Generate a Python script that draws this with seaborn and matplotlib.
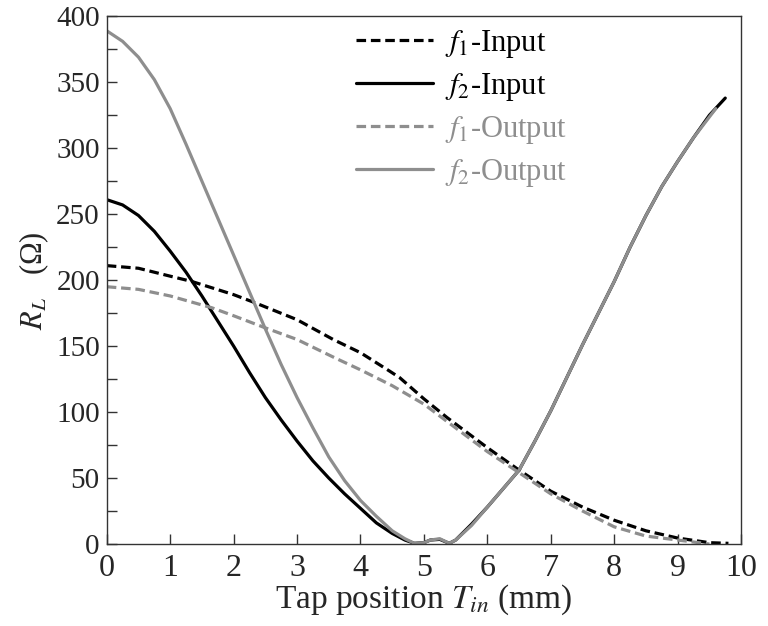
import numpy as np
import pandas as pd
import matplotlib
matplotlib.use("Agg")
import matplotlib.pyplot as plt
import seaborn as sns
from matplotlib.ticker import MultipleLocator

# --------------------------------
# DATA
# --------------------------------

# f1 - input (black dashed)
f1_in_x = [0, 0.5, 1.0, 1.34, 2.0, 2.33, 3.0, 3.57, 4.0, 4.46, 4.62, 5.0, 5.36,
           6.0, 6.47, 7.0, 7.5, 8.0, 8.5, 9.0, 9.5, 9.8]
f1_in_y = [211, 209, 203, 199, 189, 183, 170, 155, 145, 131, 126, 110, 96,
           73, 57, 40, 28, 18, 10, 4.5, 1, 0.5]

# f2 - input (black solid)
f2_in_x = [0, 0.25, 0.5, 0.75, 1.0, 1.25, 1.5, 1.75, 2.0, 2.25, 2.5, 2.75, 3.0,
           3.25, 3.5, 3.75, 4.0, 4.25, 4.5, 4.7, 4.85, 5.0, 5.1, 5.25, 5.4,
           5.5, 5.75, 6.0, 6.25, 6.5, 6.75, 7.0, 7.25, 7.5, 7.75, 8.0, 8.25,
           8.5, 8.75, 9.0, 9.25, 9.5, 9.75]
f2_in_y = [261, 257, 249, 237, 222, 206, 188, 169, 150, 130, 111, 94, 78,
           63, 50, 38, 27, 16, 8, 3, 0.5, 1, 3, 3.5, 0.5,
           3, 15, 28, 42, 56, 78, 101, 126, 151, 175, 199, 225,
           249, 271, 290, 308, 325, 338]

# f1 - output (gray dashed)
f1_out_x = [0, 0.5, 1.0, 1.66, 2.0, 2.49, 3.0, 3.6, 4.0, 4.5, 5.0, 5.36,
            6.0, 6.47, 7.0, 7.5, 8.0, 8.5, 9.0, 9.5]
f1_out_y = [195, 193, 188, 179, 173, 164, 155, 141, 132, 120, 106, 93,
            70, 55, 38, 25, 13, 6, 3, 0]

# f2 - output (gray solid)
f2_out_x = [0, 0.25, 0.5, 0.75, 1.0, 1.25, 1.5, 1.75, 2.0, 2.25, 2.5, 2.75, 3.0,
            3.25, 3.5, 3.75, 4.0, 4.25, 4.5, 4.7, 4.85, 5.0, 5.1, 5.25, 5.4,
            5.5, 5.75, 6.0, 6.25, 6.5, 6.75, 7.0, 7.25, 7.5, 7.75, 8.0, 8.25,
            8.5, 8.75, 9.0, 9.25, 9.6]
f2_out_y = [389, 381, 369, 352, 330, 303, 275, 247, 219, 191, 163, 136, 111,
            88, 66, 48, 33, 21, 10, 4, 0.5, 1, 3, 4, 0.5,
            3, 14, 28, 42, 56, 78, 101, 126, 151, 175, 199, 225,
            249, 271, 290, 308, 330]

labels = [r"$f_1$-Input", r"$f_2$-Input", r"$f_1$-Output", r"$f_2$-Output"]

# --------------------------------
# STYLE
# --------------------------------

sns.set_style("ticks")
plt.rcParams["font.family"] = ["Liberation Serif", "DejaVu Serif"]
plt.rcParams["mathtext.fontset"] = "stix"

BLACK = "#000000"
GRAY = "#8e8e8e"
LW = 2.3
DASH = (3.0, 1.5)

fig = plt.figure(figsize=(7.68, 6.26), dpi=100)
ax = fig.add_axes([0.139, 0.131, 0.826, 0.843])

series = [
    (f1_in_x, f1_in_y, BLACK, DASH),
    (f2_in_x, f2_in_y, BLACK, None),
    (f1_out_x, f1_out_y, GRAY, DASH),
    (f2_out_x, f2_out_y, GRAY, None),
]

for (xs, ys, col, dash), lab in zip(series, labels):
    line = sns.lineplot(x=xs, y=ys, ax=ax, color=col, linewidth=LW,
                        label=lab, sort=False)
    if dash is not None:
        line.lines[-1].set_dashes(dash)

# --------------------------------
# AXES
# --------------------------------

ax.set_xlim(0, 10)
ax.set_ylim(0, 400)
ax.xaxis.set_major_locator(MultipleLocator(1))
ax.yaxis.set_major_locator(MultipleLocator(50))
ax.yaxis.set_minor_locator(MultipleLocator(25))

ax.tick_params(axis="both", which="both", direction="in", length=7,
               width=1, color="#333333", top=False, right=False)
ax.tick_params(axis="x", pad=7, labelsize=23)
ax.tick_params(axis="y", pad=5, labelsize=21)

for sp in ax.spines.values():
    sp.set_visible(True)
    sp.set_color("#333333")
    sp.set_linewidth(1)

ax.set_xlabel(r"Tap position $T_{in}$ (mm)", fontsize=24, labelpad=0)
ax.set_ylabel(r"$R_L$   (Ω)", fontsize=22, labelpad=4)

leg = ax.legend(loc="upper left", bbox_to_anchor=(0.35, 1.03), frameon=False,
                fontsize=22, handlelength=2.5, handletextpad=0.4,
                labelspacing=0.36)
for txt, col in zip(leg.get_texts(), [BLACK, BLACK, GRAY, GRAY]):
    txt.set_color(col)

fig.savefig("out.png", dpi=100)
